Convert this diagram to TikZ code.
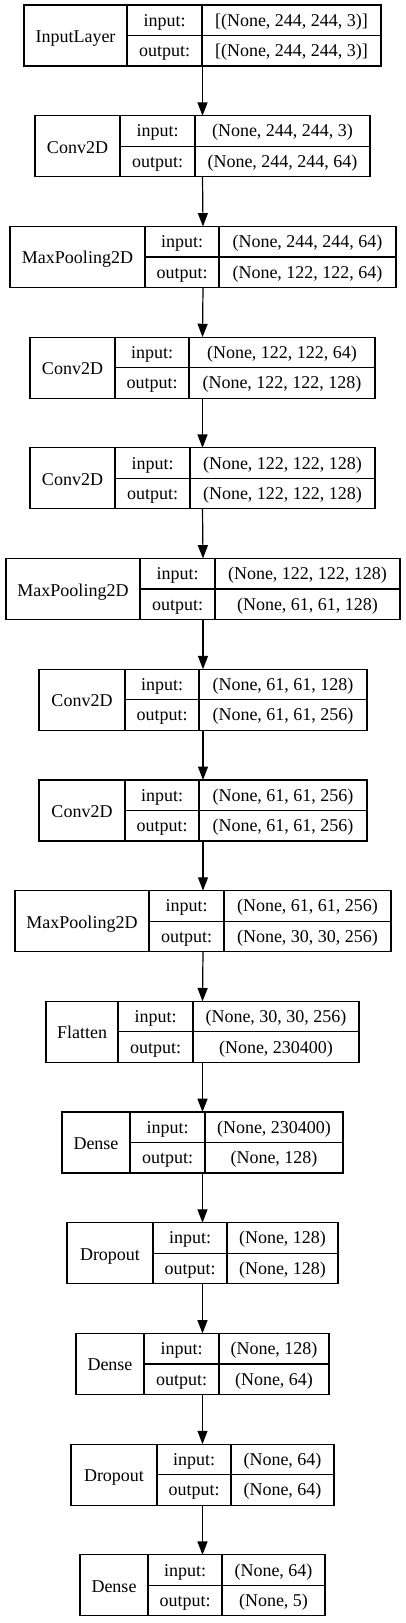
\documentclass[tikz,border=0pt]{standalone}
\usepackage{fontspec}
\setmainfont{Liberation Serif}
\usetikzlibrary{arrows.meta,fit}

\begin{document}
\begin{tikzpicture}[x=0.75pt,y=-0.75pt,
    layerbox/.style={draw=black,line width=0.9pt,inner sep=0pt,outer sep=0pt},
    divider/.style={draw=black,line width=0.9pt},
    celltext/.style={inner sep=0pt,anchor=base,font=\fontsize{13.5}{16}\selectfont},
    flow/.style={-{Triangle[width=7.5pt,length=10pt]},line width=0.9pt,black}]
  \useasboundingbox (0,0) rectangle (405,1623);
  % one record per layer: name/kind/x of left edge, dividers, right edge/shapes
  \foreach \nm/\kind/\xa/\xb/\xc/\xd/\vin/\vout [count=\i] in {
      input/InputLayer/24/127/202/381/{[(None, 244, 244, 3)]}/{[(None, 244, 244, 3)]},
      conv1/Conv2D/35/120/195/370/{(None, 244, 244, 3)}/{(None, 244, 244, 64)},
      pool1/MaxPooling2D/10/145/219/396/{(None, 244, 244, 64)}/{(None, 122, 122, 64)},
      conv2/Conv2D/30/115/189/375/{(None, 122, 122, 64)}/{(None, 122, 122, 128)},
      conv3/Conv2D/30/115/190/375/{(None, 122, 122, 128)}/{(None, 122, 122, 128)},
      pool2/MaxPooling2D/6/140/215/400/{(None, 122, 122, 128)}/{(None, 61, 61, 128)},
      conv4/Conv2D/39/125/199/367/{(None, 61, 61, 128)}/{(None, 61, 61, 256)},
      conv5/Conv2D/39/125/199/367/{(None, 61, 61, 256)}/{(None, 61, 61, 256)},
      pool3/MaxPooling2D/15/149/224/391/{(None, 61, 61, 256)}/{(None, 30, 30, 256)},
      flat/Flatten/46/118/193/359/{(None, 30, 30, 256)}/{(None, 230400)},
      dense1/Dense/62/130/205/343/{(None, 230400)}/{(None, 128)},
      drop1/Dropout/67/153/227/338/{(None, 128)}/{(None, 128)},
      dense2/Dense/76/144/219/329/{(None, 128)}/{(None, 64)},
      drop2/Dropout/71/157/231/334/{(None, 64)}/{(None, 64)},
      dense3/Dense/80/148/222/325/{(None, 64)}/{(None, 5)}}{
    \pgfmathsetmacro\yt{5+110.7*(\i-1)}
    \pgfmathsetmacro\yb{\yt+61}
    \pgfmathsetmacro\ym{\yt+30.5}
    \node[layerbox,fit={(\xa,\yt) (\xd,\yb)}] (\nm) {};
    \draw[divider] (\xb,\yt) -- (\xb,\yb) (\xc,\yt) -- (\xc,\yb) (\xb,\ym) -- (\xd,\ym);
    \node[celltext] (\nm-kind) at ({(\xa+\xb)/2},\ym+7) {\kind};
    \node[celltext] (\nm-inlbl) at ({(\xb+\xc)/2},\yt+21.2) {input:};
    \node[celltext] (\nm-outlbl) at ({(\xb+\xc)/2},\ym+21.2) {output:};
    \node[celltext] (\nm-in) at ({(\xc+\xd)/2},\yt+21.2) {\vin};
    \node[celltext] (\nm-out) at ({(\xc+\xd)/2},\ym+21.2) {\vout};
  }
  \foreach \a/\b in {input/conv1,conv1/pool1,pool1/conv2,conv2/conv3,conv3/pool2,
      pool2/conv4,conv4/conv5,conv5/pool3,pool3/flat,flat/dense1,dense1/drop1,
      drop1/dense2,dense2/drop2,drop2/dense3}
    \draw[flow] (\a.south) -- (\b.north);
\end{tikzpicture}
\end{document}
